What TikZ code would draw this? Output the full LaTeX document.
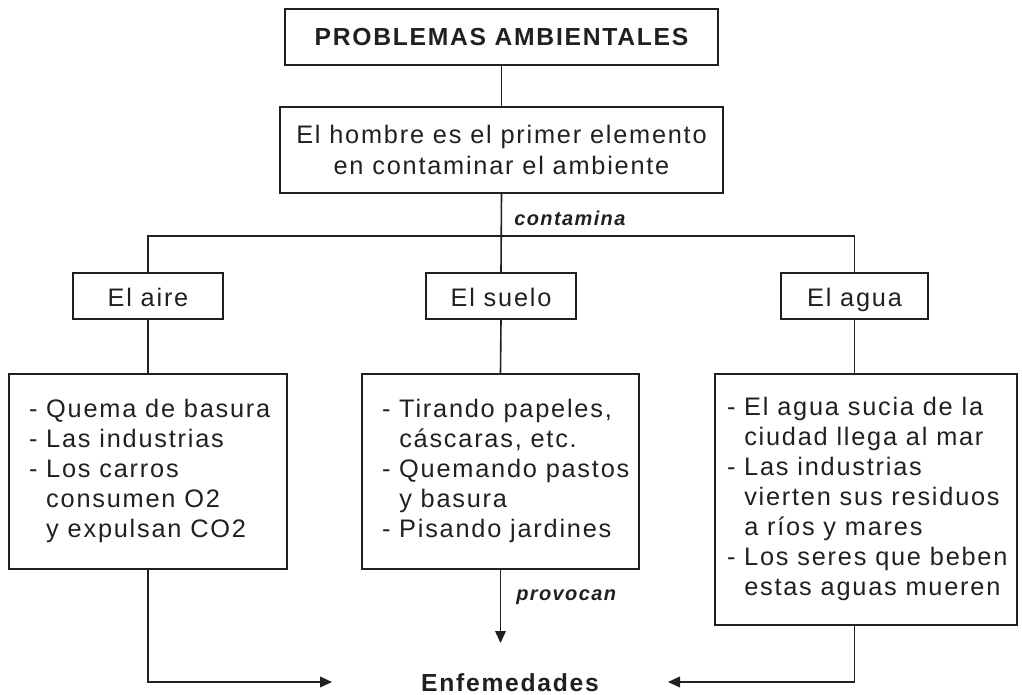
\documentclass[tikz,border=0pt]{standalone}
\usepackage{fontspec}
\setmainfont{Liberation Sans}[LetterSpace=7]
\usetikzlibrary{arrows.meta}
\definecolor{ink}{HTML}{231F20}
\newcommand{\listtext}[3]{\makebox[#1][l]{\hspace*{#2}\begin{tabular}{@{}l@{}}#3\end{tabular}}}
\newcommand{\ind}{\hphantom{- }}
\begin{document}
\begin{tikzpicture}[x=0.75pt,y=-0.75pt,
  box/.style={draw=ink, line width=1.2pt, inner sep=0pt, text=ink, font=\fontsize{19pt}{22.5pt}\selectfont},
  smallbox/.style={box, minimum height=34.5pt, text height=17pt, text depth=1pt},
  conn/.style={draw=ink, line width=1.2pt},
  arr/.style={conn, -{Triangle[length=9pt,width=8pt]}},
  lbl/.style={text=ink, font=\fontsize{15pt}{18pt}\selectfont\bfseries\itshape, inner sep=0pt, anchor=west}]
\useasboundingbox (0,0) rectangle (1022,695);

\node[box, minimum width=324.75pt, minimum height=42pt, font=\fontsize{18.5pt}{22.5pt}\selectfont\bfseries] (title) at (501.5,37) {PROBLEMAS AMBIENTALES};
\node[box, minimum width=332.25pt, minimum height=64.5pt, align=center, font=\fontsize{19pt}{23.75pt}\selectfont] (hombre) at (501.5,150) {El hombre es el primer elemento\\en contaminar el ambiente};

\node[smallbox, minimum width=112.5pt] (aire) at (148,296) {El aire};
\node[smallbox, minimum width=112.5pt] (suelo) at (501,296) {El suelo};
\node[smallbox, minimum width=110.25pt] (agua) at (854.5,296) {El agua};

\node[box, minimum height=146.25pt] (laire) at (148,471.5) {\listtext{208.5pt}{15pt}{- Quema de basura\\- Las industrias\\- Los carros\\\ind consumen O2\\\ind y expulsan CO2}};
\node[box, minimum height=146.25pt] (lsuelo) at (500.5,471.5) {\listtext{207.75pt}{15pt}{- Tirando papeles,\\\ind cáscaras, etc.\\- Quemando pastos\\\ind y basura\\- Pisando jardines}};
\node[box, minimum height=188.25pt] (lagua) at (866,499.5) {\listtext{226.5pt}{9pt}{- El agua sucia de la\\\ind ciudad llega al mar\\- Las industrias\\\ind vierten sus residuos\\\ind a ríos y mares\\- Los seres que beben\\\ind estas aguas mueren}};

\node[lbl] (contamina) at (514,218) {contamina};
\node[lbl] (provocan) at (516,597) {provocan};
\node[text=ink, inner sep=0pt, font=\fontsize{18.5pt}{22.5pt}\selectfont\bfseries] (enf) at (510,683) {Enfemedades};

\coordinate (jl) at (148,236);
\coordinate (jr) at (854.5,236);
\coordinate (al) at (332,682);
\coordinate (ar) at (668,682);
\coordinate (am) at (500.5,643);

\draw[conn] (title.south) -- (hombre.north);
\draw[conn] (hombre.south) -- (suelo.north);
\draw[conn] (aire.north) -- (jl) -- (jr) -- (agua.north);
\draw[conn] (aire.south) -- (laire.north);
\draw[conn] (suelo.south) -- (lsuelo.north);
\draw[conn] (agua.south) -- (agua.south |- lagua.north);
\draw[arr] (laire.south) |- (al);
\draw[arr] (agua.south |- lagua.south) |- (ar);
\draw[arr] (lsuelo.south) -- (am);
\end{tikzpicture}
\end{document}
